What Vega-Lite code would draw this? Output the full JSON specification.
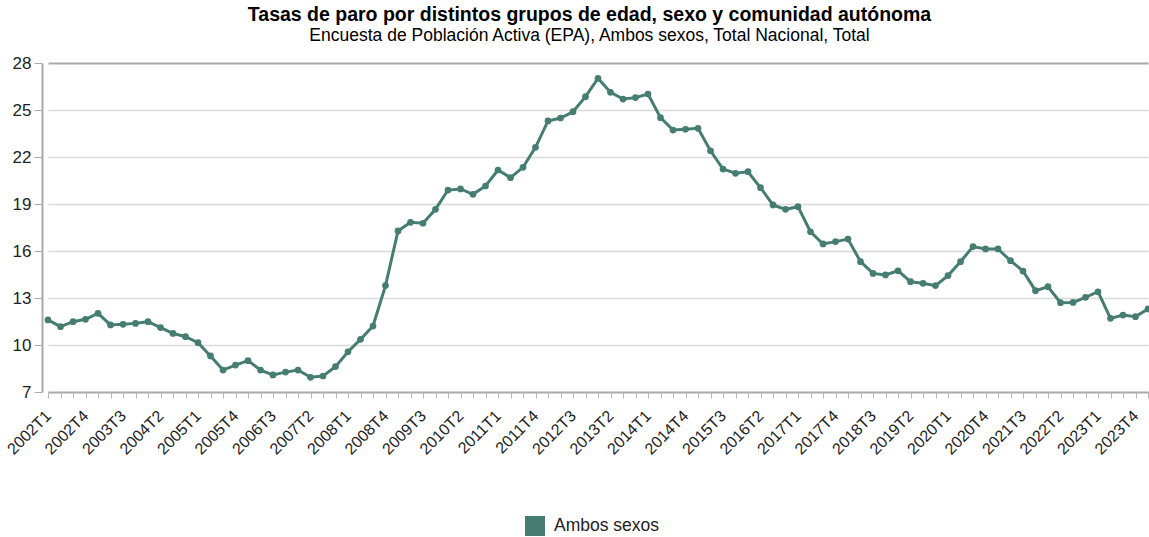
{
  "$schema": "https://vega.github.io/schema/vega-lite/v6.json",
  "width": 1107,
  "height": 329,
  "autosize": {"type": "none"},
  "padding": {"left": 42, "top": 63, "right": 0, "bottom": 145},
  "config": {"font": "Liberation Sans", "view": {"stroke": null}},
  "title": {
    "text": "Tasas de paro por distintos grupos de edad, sexo y comunidad autónoma",
    "subtitle": "Encuesta de Población Activa (EPA), Ambos sexos, Total Nacional, Total",
    "anchor": "middle",
    "frame": "group",
    "dx": -6,
    "fontSize": 19.5,
    "fontWeight": "bold",
    "color": "#000000",
    "subtitleFontSize": 17.5,
    "subtitleColor": "#000000",
    "subtitlePadding": 1,
    "offset": 9
  },
  "data": {
    "values": [
      {"periodo": "2002T1", "tasa": 11.60, "serie": "Ambos sexos"},
      {"periodo": "2002T2", "tasa": 11.17, "serie": "Ambos sexos"},
      {"periodo": "2002T3", "tasa": 11.49, "serie": "Ambos sexos"},
      {"periodo": "2002T4", "tasa": 11.64, "serie": "Ambos sexos"},
      {"periodo": "2003T1", "tasa": 12.02, "serie": "Ambos sexos"},
      {"periodo": "2003T2", "tasa": 11.28, "serie": "Ambos sexos"},
      {"periodo": "2003T3", "tasa": 11.32, "serie": "Ambos sexos"},
      {"periodo": "2003T4", "tasa": 11.38, "serie": "Ambos sexos"},
      {"periodo": "2004T1", "tasa": 11.49, "serie": "Ambos sexos"},
      {"periodo": "2004T2", "tasa": 11.11, "serie": "Ambos sexos"},
      {"periodo": "2004T3", "tasa": 10.74, "serie": "Ambos sexos"},
      {"periodo": "2004T4", "tasa": 10.53, "serie": "Ambos sexos"},
      {"periodo": "2005T1", "tasa": 10.15, "serie": "Ambos sexos"},
      {"periodo": "2005T2", "tasa": 9.30, "serie": "Ambos sexos"},
      {"periodo": "2005T3", "tasa": 8.40, "serie": "Ambos sexos"},
      {"periodo": "2005T4", "tasa": 8.72, "serie": "Ambos sexos"},
      {"periodo": "2006T1", "tasa": 9.00, "serie": "Ambos sexos"},
      {"periodo": "2006T2", "tasa": 8.40, "serie": "Ambos sexos"},
      {"periodo": "2006T3", "tasa": 8.09, "serie": "Ambos sexos"},
      {"periodo": "2006T4", "tasa": 8.27, "serie": "Ambos sexos"},
      {"periodo": "2007T1", "tasa": 8.40, "serie": "Ambos sexos"},
      {"periodo": "2007T2", "tasa": 7.94, "serie": "Ambos sexos"},
      {"periodo": "2007T3", "tasa": 8.02, "serie": "Ambos sexos"},
      {"periodo": "2007T4", "tasa": 8.62, "serie": "Ambos sexos"},
      {"periodo": "2008T1", "tasa": 9.57, "serie": "Ambos sexos"},
      {"periodo": "2008T2", "tasa": 10.36, "serie": "Ambos sexos"},
      {"periodo": "2008T3", "tasa": 11.21, "serie": "Ambos sexos"},
      {"periodo": "2008T4", "tasa": 13.79, "serie": "Ambos sexos"},
      {"periodo": "2009T1", "tasa": 17.28, "serie": "Ambos sexos"},
      {"periodo": "2009T2", "tasa": 17.83, "serie": "Ambos sexos"},
      {"periodo": "2009T3", "tasa": 17.77, "serie": "Ambos sexos"},
      {"periodo": "2009T4", "tasa": 18.66, "serie": "Ambos sexos"},
      {"periodo": "2010T1", "tasa": 19.89, "serie": "Ambos sexos"},
      {"periodo": "2010T2", "tasa": 19.96, "serie": "Ambos sexos"},
      {"periodo": "2010T3", "tasa": 19.62, "serie": "Ambos sexos"},
      {"periodo": "2010T4", "tasa": 20.15, "serie": "Ambos sexos"},
      {"periodo": "2011T1", "tasa": 21.17, "serie": "Ambos sexos"},
      {"periodo": "2011T2", "tasa": 20.68, "serie": "Ambos sexos"},
      {"periodo": "2011T3", "tasa": 21.34, "serie": "Ambos sexos"},
      {"periodo": "2011T4", "tasa": 22.62, "serie": "Ambos sexos"},
      {"periodo": "2012T1", "tasa": 24.30, "serie": "Ambos sexos"},
      {"periodo": "2012T2", "tasa": 24.49, "serie": "Ambos sexos"},
      {"periodo": "2012T3", "tasa": 24.89, "serie": "Ambos sexos"},
      {"periodo": "2012T4", "tasa": 25.85, "serie": "Ambos sexos"},
      {"periodo": "2013T1", "tasa": 27.02, "serie": "Ambos sexos"},
      {"periodo": "2013T2", "tasa": 26.13, "serie": "Ambos sexos"},
      {"periodo": "2013T3", "tasa": 25.70, "serie": "Ambos sexos"},
      {"periodo": "2013T4", "tasa": 25.79, "serie": "Ambos sexos"},
      {"periodo": "2014T1", "tasa": 26.02, "serie": "Ambos sexos"},
      {"periodo": "2014T2", "tasa": 24.51, "serie": "Ambos sexos"},
      {"periodo": "2014T3", "tasa": 23.72, "serie": "Ambos sexos"},
      {"periodo": "2014T4", "tasa": 23.77, "serie": "Ambos sexos"},
      {"periodo": "2015T1", "tasa": 23.83, "serie": "Ambos sexos"},
      {"periodo": "2015T2", "tasa": 22.40, "serie": "Ambos sexos"},
      {"periodo": "2015T3", "tasa": 21.23, "serie": "Ambos sexos"},
      {"periodo": "2015T4", "tasa": 20.96, "serie": "Ambos sexos"},
      {"periodo": "2016T1", "tasa": 21.06, "serie": "Ambos sexos"},
      {"periodo": "2016T2", "tasa": 20.04, "serie": "Ambos sexos"},
      {"periodo": "2016T3", "tasa": 18.94, "serie": "Ambos sexos"},
      {"periodo": "2016T4", "tasa": 18.66, "serie": "Ambos sexos"},
      {"periodo": "2017T1", "tasa": 18.83, "serie": "Ambos sexos"},
      {"periodo": "2017T2", "tasa": 17.23, "serie": "Ambos sexos"},
      {"periodo": "2017T3", "tasa": 16.45, "serie": "Ambos sexos"},
      {"periodo": "2017T4", "tasa": 16.60, "serie": "Ambos sexos"},
      {"periodo": "2018T1", "tasa": 16.76, "serie": "Ambos sexos"},
      {"periodo": "2018T2", "tasa": 15.32, "serie": "Ambos sexos"},
      {"periodo": "2018T3", "tasa": 14.57, "serie": "Ambos sexos"},
      {"periodo": "2018T4", "tasa": 14.47, "serie": "Ambos sexos"},
      {"periodo": "2019T1", "tasa": 14.74, "serie": "Ambos sexos"},
      {"periodo": "2019T2", "tasa": 14.04, "serie": "Ambos sexos"},
      {"periodo": "2019T3", "tasa": 13.94, "serie": "Ambos sexos"},
      {"periodo": "2019T4", "tasa": 13.79, "serie": "Ambos sexos"},
      {"periodo": "2020T1", "tasa": 14.43, "serie": "Ambos sexos"},
      {"periodo": "2020T2", "tasa": 15.32, "serie": "Ambos sexos"},
      {"periodo": "2020T3", "tasa": 16.28, "serie": "Ambos sexos"},
      {"periodo": "2020T4", "tasa": 16.13, "serie": "Ambos sexos"},
      {"periodo": "2021T1", "tasa": 16.13, "serie": "Ambos sexos"},
      {"periodo": "2021T2", "tasa": 15.38, "serie": "Ambos sexos"},
      {"periodo": "2021T3", "tasa": 14.72, "serie": "Ambos sexos"},
      {"periodo": "2021T4", "tasa": 13.47, "serie": "Ambos sexos"},
      {"periodo": "2022T1", "tasa": 13.72, "serie": "Ambos sexos"},
      {"periodo": "2022T2", "tasa": 12.70, "serie": "Ambos sexos"},
      {"periodo": "2022T3", "tasa": 12.72, "serie": "Ambos sexos"},
      {"periodo": "2022T4", "tasa": 13.04, "serie": "Ambos sexos"},
      {"periodo": "2023T1", "tasa": 13.40, "serie": "Ambos sexos"},
      {"periodo": "2023T2", "tasa": 11.70, "serie": "Ambos sexos"},
      {"periodo": "2023T3", "tasa": 11.91, "serie": "Ambos sexos"},
      {"periodo": "2023T4", "tasa": 11.81, "serie": "Ambos sexos"},
      {"periodo": "2024T1", "tasa": 12.30, "serie": "Ambos sexos"}
    ]
  },
  "encoding": {
    "x": {
      "field": "periodo",
      "type": "ordinal",
      "sort": null,
      "scale": {"type": "point", "range": [6, 1106], "padding": 0},
      "axis": {
        "title": null,
        "domain": false,
        "grid": false,
        "ticks": true,
        "tickSize": 6,
        "tickColor": "#b8b8b8",
        "tickWidth": 1,
        "labelAngle": -45,
        "labelAlign": "right",
        "labelBaseline": "middle",
        "labelFontSize": 16,
        "labelColor": "#222222",
        "labelPadding": 15,
        "labelOverlap": false,
        "labelBound": false,
        "labelExpr": "((parseInt(substring(datum.value,0,4))-2002)*4 + parseInt(substring(datum.value,5,6)) - 1) % 3 == 0 ? datum.value : ''"
      }
    },
    "y": {
      "field": "tasa",
      "type": "quantitative",
      "scale": {"domain": [7, 28], "nice": false, "zero": false},
      "axis": {
        "title": null,
        "values": [7, 10, 13, 16, 19, 22, 25, 28],
        "domain": true,
        "domainColor": "#aaaaaa",
        "domainWidth": 2,
        "ticks": true,
        "tickSize": 8,
        "tickColor": "#aaaaaa",
        "labelFontSize": 17,
        "labelColor": "#222222",
        "labelPadding": 3,
        "grid": true,
        "gridColor": {"condition": {"test": "datum.value === 7 || datum.value === 28", "value": "#a8a8a8"}, "value": "#d9d9d9"},
        "gridWidth": {"condition": {"test": "datum.value === 7 || datum.value === 28", "value": 2}, "value": 1.5}
      }
    }
  },
  "layer": [
    {
      "mark": {"type": "line", "color": "#457d72", "strokeWidth": 3}
    },
    {
      "mark": {"type": "point", "filled": true, "opacity": 1, "size": 45},
      "encoding": {
        "color": {
          "field": "serie",
          "type": "nominal",
          "scale": {"range": ["#457d72"]},
          "legend": {
            "title": null,
            "orient": "none",
            "legendX": 482,
            "legendY": 452,
            "symbolType": "square",
            "symbolSize": 400,
            "symbolOpacity": 1,
            "labelFontSize": 17.5,
            "labelColor": "#222222",
            "labelOffset": 8
          }
        }
      }
    }
  ]
}
